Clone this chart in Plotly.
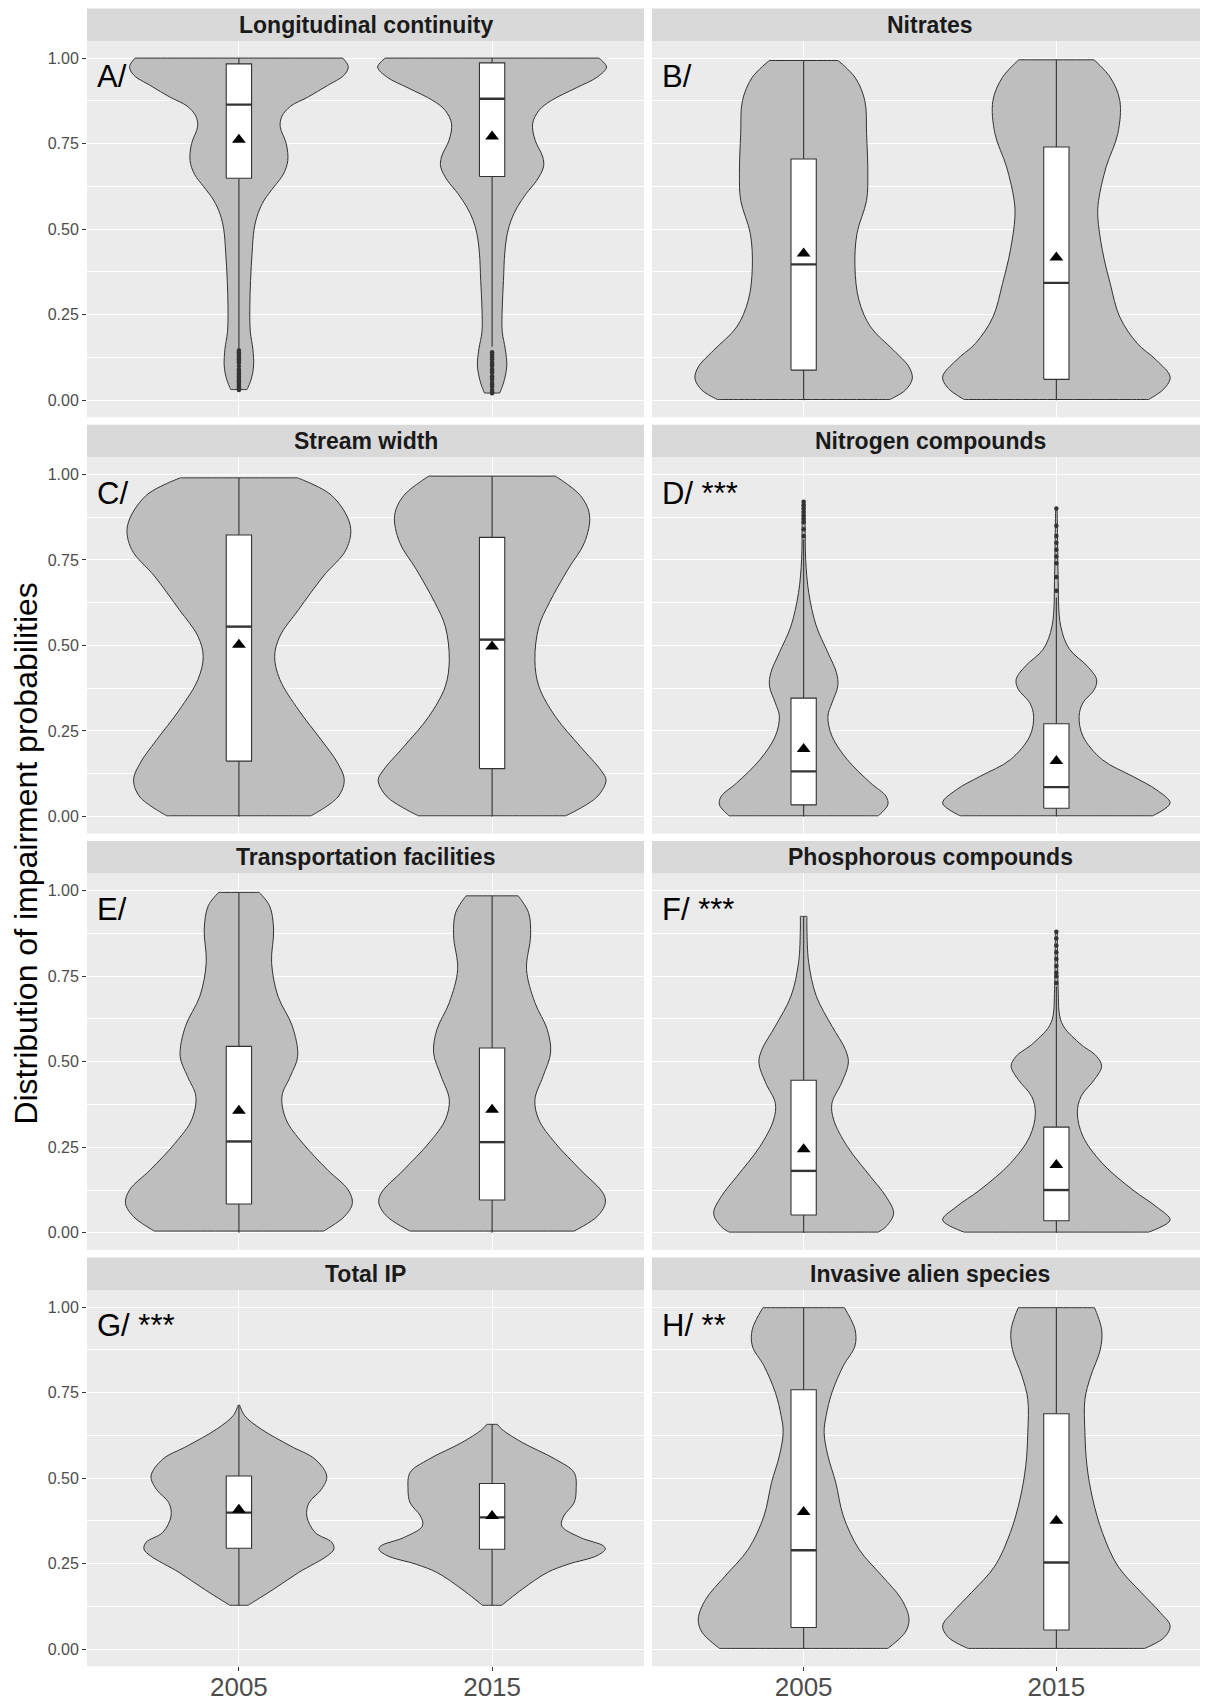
import plotly.graph_objects as go

# ---------------- data ----------------
YEARS = ["2005", "2015"]
TITLES = ["Longitudinal continuity", "Nitrates", "Stream width", "Nitrogen compounds",
          "Transportation facilities", "Phosphorous compounds", "Total IP", "Invasive alien species"]
LABELS = ["A/", "B/", "C/", "D/ ***", "E/", "F/ ***", "G/ ***", "H/ **"]
Y_TICKS = [0, 0.25, 0.5, 0.75, 1.0]
Y_TICK_TEXT = ["0.00", "0.25", "0.50", "0.75", "1.00"]

# violin outlines: y levels and half-widths (x units)
A05_y = [0.031, 0.06, 0.10, 0.15, 0.20, 0.27, 0.35, 0.43, 0.50, 0.545, 0.585, 0.625, 0.66, 0.70, 0.75, 0.80, 0.83, 0.86, 0.885, 0.92, 0.95, 0.975, 1.0]
A05_w = [0.032, 0.048, 0.058, 0.055, 0.045, 0.043, 0.046, 0.052, 0.060, 0.075, 0.10, 0.14, 0.175, 0.193, 0.187, 0.163, 0.17, 0.205, 0.27, 0.35, 0.415, 0.432, 0.41]
A15_y = [0.021, 0.05, 0.10, 0.15, 0.20, 0.27, 0.35, 0.43, 0.487, 0.526, 0.565, 0.604, 0.643, 0.682, 0.711, 0.76, 0.808, 0.847, 0.876, 0.913, 0.944, 0.974, 1.0]
A15_w = [0.03, 0.045, 0.058, 0.052, 0.04, 0.04, 0.045, 0.05, 0.06, 0.075, 0.10, 0.135, 0.177, 0.203, 0.2, 0.17, 0.16, 0.185, 0.234, 0.332, 0.414, 0.452, 0.422]
B05_y = [0.002, 0.029, 0.063, 0.097, 0.146, 0.214, 0.292, 0.389, 0.487, 0.584, 0.662, 0.779, 0.876, 0.944, 0.993]
B05_w = [0.341, 0.402, 0.430, 0.417, 0.356, 0.265, 0.219, 0.203, 0.211, 0.249, 0.254, 0.249, 0.242, 0.203, 0.136]
B15_y = [0.002, 0.034, 0.068, 0.117, 0.166, 0.243, 0.341, 0.438, 0.535, 0.584, 0.682, 0.779, 0.876, 0.944, 0.995]
B15_w = [0.365, 0.427, 0.450, 0.396, 0.320, 0.251, 0.213, 0.182, 0.164, 0.167, 0.197, 0.243, 0.251, 0.213, 0.149]
C05_y = [0.002, 0.057, 0.106, 0.155, 0.223, 0.311, 0.400, 0.468, 0.527, 0.605, 0.703, 0.781, 0.850, 0.938, 0.990]
C05_w = [0.285, 0.391, 0.416, 0.391, 0.326, 0.236, 0.162, 0.141, 0.162, 0.236, 0.334, 0.424, 0.440, 0.367, 0.231]
C15_y = [0.002, 0.057, 0.106, 0.135, 0.204, 0.292, 0.380, 0.458, 0.556, 0.625, 0.723, 0.801, 0.880, 0.938, 0.995]
C15_w = [0.291, 0.414, 0.450, 0.430, 0.349, 0.250, 0.185, 0.169, 0.185, 0.226, 0.300, 0.365, 0.385, 0.349, 0.250]
D05_y = [0.002, 0.034, 0.059, 0.098, 0.166, 0.235, 0.293, 0.332, 0.381, 0.420, 0.479, 0.557, 0.655, 0.752, 0.85, 0.919]
D05_w = [0.295, 0.333, 0.326, 0.265, 0.173, 0.112, 0.096, 0.112, 0.135, 0.130, 0.096, 0.05, 0.02, 0.008, 0.006, 0.005]
D15_y = [0.002, 0.039, 0.078, 0.117, 0.166, 0.235, 0.293, 0.332, 0.372, 0.401, 0.440, 0.489, 0.557, 0.704, 0.80, 0.902]
D15_w = [0.381, 0.450, 0.396, 0.303, 0.182, 0.105, 0.090, 0.105, 0.151, 0.159, 0.122, 0.052, 0.017, 0.007, 0.005, 0.003]
E05_y = [0.005, 0.047, 0.086, 0.125, 0.184, 0.262, 0.330, 0.399, 0.457, 0.516, 0.604, 0.692, 0.790, 0.888, 0.956, 0.995]
E05_w = [0.334, 0.416, 0.448, 0.432, 0.350, 0.252, 0.187, 0.170, 0.203, 0.232, 0.211, 0.154, 0.129, 0.137, 0.121, 0.08]
E15_y = [0.005, 0.047, 0.086, 0.115, 0.184, 0.262, 0.330, 0.389, 0.457, 0.526, 0.594, 0.673, 0.770, 0.868, 0.936, 0.985]
E15_w = [0.324, 0.414, 0.447, 0.439, 0.349, 0.250, 0.185, 0.169, 0.201, 0.231, 0.218, 0.169, 0.136, 0.152, 0.144, 0.103]
F05_y = [0.002, 0.018, 0.057, 0.106, 0.164, 0.252, 0.330, 0.379, 0.438, 0.497, 0.536, 0.604, 0.692, 0.790, 0.888, 0.925]
F05_w = [0.295, 0.326, 0.356, 0.326, 0.265, 0.173, 0.119, 0.112, 0.150, 0.177, 0.165, 0.112, 0.05, 0.02, 0.013, 0.013]
F15_y = [0.002, 0.037, 0.076, 0.125, 0.203, 0.282, 0.350, 0.399, 0.448, 0.487, 0.516, 0.555, 0.614, 0.712, 0.80, 0.883]
F15_w = [0.365, 0.450, 0.396, 0.303, 0.182, 0.105, 0.083, 0.098, 0.151, 0.179, 0.159, 0.090, 0.021, 0.007, 0.005, 0.004]
G05_y = [0.128, 0.175, 0.224, 0.273, 0.292, 0.312, 0.341, 0.389, 0.428, 0.467, 0.506, 0.555, 0.594, 0.643, 0.682, 0.713]
G05_w = [0.036, 0.137, 0.236, 0.350, 0.375, 0.367, 0.301, 0.268, 0.277, 0.326, 0.347, 0.301, 0.203, 0.088, 0.023, 0.003]
G15_y = [0.128, 0.175, 0.224, 0.248, 0.273, 0.292, 0.302, 0.326, 0.360, 0.389, 0.428, 0.467, 0.516, 0.555, 0.604, 0.643, 0.657]
G15_w = [0.038, 0.119, 0.218, 0.300, 0.414, 0.447, 0.439, 0.349, 0.275, 0.283, 0.324, 0.332, 0.324, 0.250, 0.119, 0.038, 0.021]
H05_y = [0.002, 0.049, 0.088, 0.146, 0.214, 0.292, 0.389, 0.487, 0.565, 0.633, 0.682, 0.750, 0.828, 0.886, 0.935, 0.998]
H05_w = [0.333, 0.402, 0.417, 0.387, 0.310, 0.219, 0.157, 0.127, 0.096, 0.081, 0.089, 0.112, 0.157, 0.203, 0.203, 0.161]
H15_y = [0.002, 0.034, 0.068, 0.107, 0.166, 0.243, 0.341, 0.438, 0.536, 0.633, 0.730, 0.798, 0.876, 0.935, 0.998]
H15_w = [0.350, 0.427, 0.450, 0.411, 0.335, 0.243, 0.182, 0.144, 0.121, 0.113, 0.113, 0.136, 0.174, 0.179, 0.151]

# box statistics per panel: [2005, 2015]
Q1 =     [[0.649, 0.654], [0.088, 0.061], [0.162, 0.140], [0.034, 0.024], [0.084, 0.096], [0.052, 0.035], [0.295, 0.292], [0.063, 0.056]]
MEDIAN = [[0.864, 0.881], [0.397, 0.343], [0.555, 0.517], [0.132, 0.086], [0.267, 0.265], [0.181, 0.125], [0.399, 0.385], [0.289, 0.253]]
Q3 =     [[0.983, 0.986], [0.705, 0.740], [0.823, 0.816], [0.346, 0.271], [0.545, 0.540], [0.446, 0.309], [0.506, 0.484], [0.758, 0.688]]
LOWER =  [[0.148, 0.156], [0.0, 0.0], [0.0, 0.0], [0.0, 0.0], [0.0, 0.0], [0.0, 0.0], [0.128, 0.128], [0.0, 0.0]]
UPPER =  [[1.0, 1.0], [0.993, 0.995], [0.990, 0.995], [0.81, 0.64], [0.995, 0.985], [0.925, 0.72], [0.713, 0.657], [0.998, 0.998]]
MEAN =   [[0.761, 0.771], [0.429, 0.417], [0.502, 0.497], [0.197, 0.162], [0.357, 0.360], [0.244, 0.198], [0.407, 0.389], [0.401, 0.375]]

# outliers
A05_out = [0.03, 0.035, 0.04, 0.045, 0.05, 0.055, 0.06, 0.065, 0.07, 0.075, 0.08, 0.085, 0.09, 0.10, 0.11, 0.115, 0.12, 0.125, 0.13, 0.135, 0.14, 0.145]
A15_out = [0.02, 0.025, 0.03, 0.04, 0.045, 0.05, 0.06, 0.065, 0.07, 0.08, 0.085, 0.09, 0.10, 0.105, 0.11, 0.12, 0.125, 0.13, 0.135, 0.14]
D05_out = [0.82, 0.84, 0.86, 0.87, 0.88, 0.89, 0.90, 0.91, 0.92]
D15_out = [0.66, 0.70, 0.74, 0.76, 0.78, 0.80, 0.82, 0.85, 0.90]
F15_out = [0.73, 0.75, 0.76, 0.78, 0.80, 0.82, 0.84, 0.86, 0.88]

VIOLINS = [[(A05_y, A05_w), (A15_y, A15_w)], [(B05_y, B05_w), (B15_y, B15_w)],
           [(C05_y, C05_w), (C15_y, C15_w)], [(D05_y, D05_w), (D15_y, D15_w)],
           [(E05_y, E05_w), (E15_y, E15_w)], [(F05_y, F05_w), (F15_y, F15_w)],
           [(G05_y, G05_w), (G15_y, G15_w)], [(H05_y, H05_w), (H15_y, H15_w)]]
OUTLIERS = [[A05_out, A15_out], [[], []], [[], []], [D05_out, D15_out],
            [[], []], [[], F15_out], [[], []], [[], []]]

# ---------------- layout constants (page pixels) ----------------
OFF = 8                      # page body margin offset
W, H = 1208 - OFF, 1701 - OFF
COLS = [(87, 644), (652, 1208)]
STRIP_TOP0, ROW_PITCH, STRIP_H, PANEL_H = 8.5, 416.3, 32.5, 376.3
BOX_W = 0.1
FONT = "Liberation Sans, Arial, sans-serif"
DARK = "#333333"


def px_x(v):
    return (v - OFF) / W


def px_y(v):
    return 1 - (v - OFF) / H


fig = go.Figure()
layout = dict(width=W, height=H, margin=dict(l=0, r=0, t=0, b=0), autosize=False,
              paper_bgcolor="white", plot_bgcolor="#EBEBEB", showlegend=False,
              hovermode=False, font=dict(family=FONT))
shapes, annotations = [], []

for k in range(8):
    r, c = divmod(k, 2)
    n = k + 1
    xa = "x" if n == 1 else f"x{n}"
    ya = "y" if n == 1 else f"y{n}"
    x0, x1 = COLS[c]
    st = STRIP_TOP0 + r * ROW_PITCH
    pt = st + STRIP_H
    pb = pt + PANEL_H
    bottom = r == 3
    left = c == 0
    layout["xaxis" if n == 1 else f"xaxis{n}"] = dict(
        domain=[px_x(x0), min(1.0, px_x(x1))], range=[0.4, 2.6], anchor=ya,
        tickmode="array", tickvals=[1, 2], ticktext=YEARS,
        showticklabels=bottom, ticks="outside" if bottom else "", ticklen=4,
        tickcolor=DARK, tickfont=dict(size=26, color="#4D4D4D", family=FONT),
        ticklabelstandoff=-6,
        showgrid=True, gridcolor="white", gridwidth=1.3, zeroline=False, showline=False,
        fixedrange=True)
    layout["yaxis" if n == 1 else f"yaxis{n}"] = dict(
        domain=[px_y(pb), px_y(pt)], range=[-0.05, 1.05], anchor=xa,
        tickmode="array", tickvals=Y_TICKS, ticktext=Y_TICK_TEXT,
        showticklabels=left, ticks="outside" if left else "", ticklen=4,
        tickcolor=DARK, tickfont=dict(size=16, color="#4D4D4D", family=FONT),
        showgrid=True, gridcolor="white", gridwidth=1.3, zeroline=False, showline=False,
        minor=dict(tickvals=[0.125, 0.375, 0.625, 0.875], showgrid=True,
                   gridcolor="white", gridwidth=0.6, ticks=""),
        fixedrange=True)

    # strip
    shapes.append(dict(type="rect", xref="paper", yref="paper",
                       x0=px_x(x0), x1=min(1.0, px_x(x1)), y0=px_y(pt), y1=px_y(st),
                       fillcolor="#D9D9D9", line=dict(width=0), layer="below"))
    annotations.append(dict(xref="paper", yref="paper", x=px_x((x0 + x1) / 2),
                            y=px_y(st + STRIP_H / 2), text=f"<b>{TITLES[k]}</b>",
                            showarrow=False, xanchor="center", yanchor="middle",
                            font=dict(size=23, color="#1A1A1A", family=FONT)))
    annotations.append(dict(xref=xa, yref=ya, x=0.43, y=0.945, text=LABELS[k],
                            showarrow=False, xanchor="left", yanchor="middle",
                            font=dict(size=31, color="black", family=FONT)))

    for j in range(2):
        xc = j + 1
        vy, vw = VIOLINS[k][j]
        R = [(xc + w, y) for y, w in zip(vy, vw)]
        L = [(xc - w, y) for y, w in zip(vy, vw)][::-1]
        pts = [R[0]] + R + [R[-1]] + [L[0]] + L + [L[-1], R[0]]
        fig.add_trace(go.Scatter(
            x=[p[0] for p in pts], y=[p[1] for p in pts], mode="lines",
            fill="toself", fillcolor="#BEBEBE",
            line=dict(color=DARK, width=1.0, shape="spline", smoothing=1, simplify=False),
            xaxis=xa, yaxis=ya, hoverinfo="skip"))
        # whiskers
        fig.add_trace(go.Scatter(
            x=[xc, xc, None, xc, xc],
            y=[LOWER[k][j], Q1[k][j], None, Q3[k][j], UPPER[k][j]],
            mode="lines", line=dict(color=DARK, width=1.1),
            xaxis=xa, yaxis=ya, hoverinfo="skip"))
        # box
        bl, br = xc - BOX_W / 2, xc + BOX_W / 2
        fig.add_trace(go.Scatter(
            x=[bl, br, br, bl, bl], y=[Q1[k][j], Q1[k][j], Q3[k][j], Q3[k][j], Q1[k][j]],
            mode="lines", fill="toself", fillcolor="white",
            line=dict(color=DARK, width=1.1), xaxis=xa, yaxis=ya, hoverinfo="skip"))
        # median
        fig.add_trace(go.Scatter(
            x=[bl, br], y=[MEDIAN[k][j]] * 2, mode="lines",
            line=dict(color=DARK, width=2.4), xaxis=xa, yaxis=ya, hoverinfo="skip"))
        out = OUTLIERS[k][j]
        if out:
            fig.add_trace(go.Scatter(
                x=[xc] * len(out), y=out, mode="markers",
                marker=dict(symbol="circle", size=4.5, color=DARK),
                xaxis=xa, yaxis=ya, hoverinfo="skip"))
        fig.add_trace(go.Scatter(
            x=[xc], y=[MEAN[k][j]], mode="markers",
            marker=dict(symbol="triangle-up", size=12, color="black"),
            xaxis=xa, yaxis=ya, hoverinfo="skip"))

panel_top = STRIP_TOP0 + STRIP_H
panel_bottom = STRIP_TOP0 + 3 * ROW_PITCH + STRIP_H + PANEL_H
annotations.append(dict(xref="paper", yref="paper", x=px_x(26),
                        y=px_y((panel_top + panel_bottom) / 2),
                        text="Distribution of impairment probabilities", textangle=-90,
                        showarrow=False, xanchor="center", yanchor="middle",
                        font=dict(size=32, color="black", family=FONT)))

layout["shapes"] = shapes
layout["annotations"] = annotations
fig.update_layout(**layout)
fig.write_html("out.html")
